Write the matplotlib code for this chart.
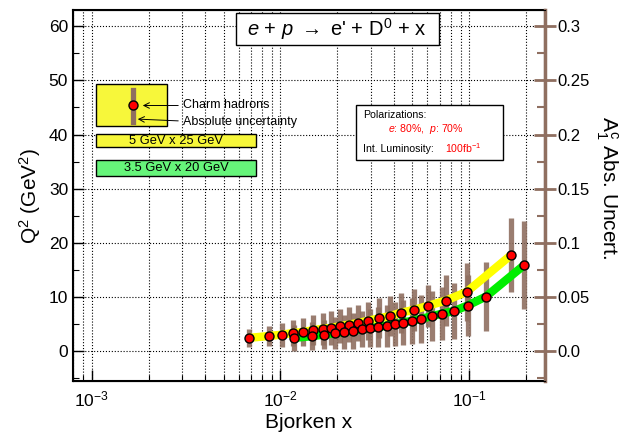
import matplotlib
matplotlib.use('Agg')
import matplotlib.pyplot as plt
from matplotlib.patches import Rectangle
from matplotlib.ticker import FixedLocator, FixedFormatter, MultipleLocator, LogLocator, NullFormatter

# ---------------- data ----------------
# 5 GeV x 25 GeV (yellow)
x_5x25 = [0.0068, 0.0087, 0.0102, 0.0117, 0.0132, 0.0148, 0.0167, 0.0185, 0.0207, 0.0231,
          0.0258, 0.0291, 0.0334, 0.0380, 0.0435, 0.0510, 0.0602, 0.0752, 0.0969, 0.166]
q2_5x25 = [2.46, 2.82, 3.06, 3.38, 3.56, 3.88, 4.15, 4.30, 4.62, 4.93,
           5.22, 5.63, 6.09, 6.50, 7.11, 7.66, 8.36, 9.36, 10.95, 17.72]
unc_5x25 = [0.0083, 0.0092, 0.0111, 0.0120, 0.0129, 0.0138, 0.0148, 0.0157, 0.0157, 0.0166,
            0.0166, 0.0175, 0.0185, 0.0185, 0.0185, 0.0194, 0.0194, 0.0231, 0.0268, 0.0342]

# 3.5 GeV x 20 GeV (green)
x_35x20 = [0.0118, 0.0147, 0.0171, 0.0194, 0.0218, 0.0242, 0.0269, 0.0298, 0.0330, 0.0365,
           0.0404, 0.0448, 0.0497, 0.0558, 0.0632, 0.0721, 0.0833, 0.0981, 0.1226, 0.195]
q2_35x20 = [2.46, 2.77, 3.08, 3.32, 3.56, 3.82, 4.06, 4.25, 4.49, 4.71,
            4.98, 5.30, 5.63, 6.00, 6.46, 6.96, 7.44, 8.44, 10.10, 15.88]
unc_35x20 = [0.0120, 0.0129, 0.0138, 0.0148, 0.0157, 0.0166, 0.0166, 0.0175, 0.0185, 0.0194,
             0.0203, 0.0212, 0.0212, 0.0222, 0.0231, 0.0249, 0.0258, 0.0286, 0.0323, 0.0406]

q2_ticks = [0, 10, 20, 30, 40, 50, 60]
unc_ticks = [0.0, 0.05, 0.1, 0.15, 0.2, 0.25, 0.3]
unc_labels = ['0.0', '0.05', '0.1', '0.15', '0.2', '0.25', '0.3']

scale = 200.0        # Q2 units per unit of A1c uncertainty (right axis = left / 200)

# ---------------- style ----------------
plt.rcParams['font.family'] = ['Liberation Sans', 'DejaVu Sans']
plt.rcParams['mathtext.fontset'] = 'custom'
plt.rcParams['mathtext.rm'] = 'Liberation Sans'
plt.rcParams['mathtext.it'] = 'Liberation Sans:italic'
plt.rcParams['mathtext.default'] = 'regular'

brown = '#8f6f60'
W, H = 621, 440

def fx(px):           # pixel -> figure fraction
    return px / W

def fy(py):
    return 1 - py / H

fig = plt.figure(figsize=(6.21, 4.40), dpi=100)
ax = fig.add_axes([fx(73), fy(381), fx(545) - fx(73), fy(10) - fy(381)])
tf = fig.transFigure

ax.set_xscale('log')
ax.set_xlim(7.96e-4, 0.2518)
ax.set_ylim(-5.5, 63)

# error bars (uncertainty on the right axis, drawn in Q2 units)
for xs, qs, us in [(x_5x25, q2_5x25, unc_5x25), (x_35x20, q2_35x20, unc_35x20)]:
    ax.vlines(xs, [q - u * scale for q, u in zip(qs, us)], [q + u * scale for q, u in zip(qs, us)],
              color=brown, lw=3.8, alpha=0.9, zorder=2)

ax.plot(x_5x25, q2_5x25, color='#ffff00', lw=6, solid_capstyle='butt', zorder=3)
ax.plot(x_35x20, q2_35x20, color='#00ee00', lw=6, solid_capstyle='butt', zorder=3)
ax.plot(x_5x25, q2_5x25, 'o', ms=6.5, mfc='red', mec='black', mew=1, zorder=4)
ax.plot(x_35x20, q2_35x20, 'o', ms=6.5, mfc='red', mec='black', mew=1, zorder=4)

# axes, ticks, grid
ax.yaxis.set_major_locator(FixedLocator(q2_ticks))
ax.yaxis.set_minor_locator(MultipleLocator(5))
ax.xaxis.set_major_locator(LogLocator(base=10))
ax.xaxis.set_minor_locator(LogLocator(base=10, subs=range(2, 10)))
ax.xaxis.set_minor_formatter(NullFormatter())
ax.tick_params(which='major', direction='in', length=8, width=1, labelsize=12.5)
ax.tick_params(which='minor', direction='in', length=4, width=0.8)
ax.tick_params(axis='x', which='major', pad=6)
ax.grid(which='both', axis='x', ls=':', color='black', lw=0.8)
ax.grid(which='major', axis='y', ls=':', color='black', lw=0.8)
for s in ax.spines.values():
    s.set_linewidth(1.5)

ax.set_xlabel('Bjorken x', fontsize=15, labelpad=3)
ax.set_ylabel('Q$^2$ (GeV$^2$)', fontsize=15, labelpad=4)

# right axis
ax2 = ax.twinx()
ax2.set_ylim(-5.5 / scale, 63 / scale)
ax2.yaxis.set_major_locator(FixedLocator(unc_ticks))
ax2.yaxis.set_major_formatter(FixedFormatter(unc_labels))
ax2.yaxis.set_minor_locator(MultipleLocator(0.025))
ax2.spines['right'].set_color(brown)
ax2.spines['right'].set_linewidth(2.5)
ax2.tick_params(which='major', direction='inout', length=16, width=2, color=brown, labelsize=12, pad=1)
ax2.tick_params(which='minor', direction='in', length=6, width=1.5, color=brown)
fig.text(fx(607), fy(188), 'A$_1^c$ Abs. Uncert.', fontsize=15, rotation=270,
         ha='center', va='center')

def box(x0, y0, x1, y1, fc):
    ax2.add_patch(Rectangle((fx(x0), fy(y1)), fx(x1) - fx(x0), fy(y0) - fy(y1), transform=tf,
                            fc=fc, ec='black', lw=1, zorder=5, clip_on=False))

def label(x, y, s, size, **kw):
    ax2.text(fx(x), fy(y), s, transform=tf, fontsize=size, va='center', zorder=6, **kw)

# title box
box(236, 13, 439, 45, 'white')
label(337, 29, "$\\mathit{e}$ + $\\mathit{p}$ $\\rightarrow$ e' + D$^0$ + x", 14.5, ha='center')

# legend for marker / uncertainty
box(96, 84, 166.5, 126.5, '#f7f73a')
ax2.plot([fx(132.5), fx(132.5)], [fy(90), fy(122.5)], transform=tf, color=brown, lw=3.8,
         zorder=6, clip_on=False)
ax2.plot([fx(132.5)], [fy(105.5)], 'o', transform=tf, ms=6.5, mfc='red', mec='black', mew=1,
         zorder=7, clip_on=False)
label(183, 105, 'Charm hadrons', 9)
label(183, 121.5, 'Absolute uncertainty', 9)
ax2.annotate('', xy=(fx(140), fy(105.5)), xytext=(fx(181), fy(105.5)), xycoords='figure fraction',
             arrowprops=dict(arrowstyle='->', lw=0.7, color='black'), zorder=7, annotation_clip=False)
ax2.annotate('', xy=(fx(135), fy(119)), xytext=(fx(181), fy(121)), xycoords='figure fraction',
             arrowprops=dict(arrowstyle='->', lw=0.7, color='black'), zorder=7, annotation_clip=False)

box(96, 134, 256, 147.5, '#f7f73a')
label(176, 141, '5 GeV x 25 GeV', 9.3, ha='center')
box(96, 159.5, 256, 176, '#66f57a')
label(176, 168, '3.5 GeV x 20 GeV', 9.3, ha='center')

# info box
box(356, 105, 503, 159.5, 'white')
label(363, 115, 'Polarizations:', 7.6)
label(388, 129.5, '$\\mathit{e}$: 80%,  $\\mathit{p}$: 70%', 7.6, color='red')
label(363, 148.5, 'Int. Luminosity:', 7.6)
label(445, 148.5, '100fb$^{-1}$', 7.6, color='red')

fig.savefig('out.png', dpi=100)
